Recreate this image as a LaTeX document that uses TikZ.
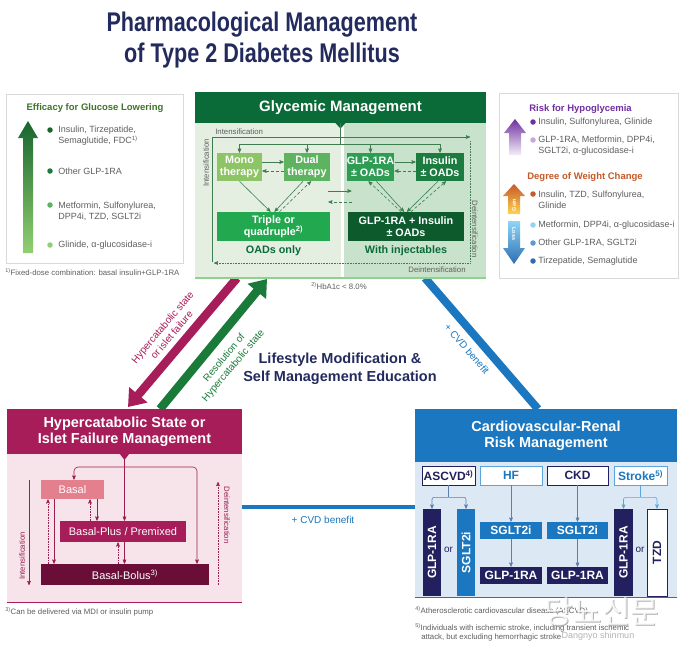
\documentclass[tikz,border=0pt]{standalone}
\usepackage{fontspec}
\setmainfont{Liberation Sans}
\newfontfamily\titlefont[FakeStretch=0.8]{Liberation Sans}
\newfontfamily\krfont{Noto Sans CJK KR}
\usetikzlibrary{shapes,arrows,arrows.meta,positioning,calc}

\definecolor{navy}{HTML}{232B5E}
\definecolor{txtgray}{HTML}{5F5F5F}
\definecolor{framegray}{HTML}{D9D9D9}
\definecolor{gdark}{HTML}{0B6B38}
\definecolor{gmono}{HTML}{8DC466}
\definecolor{gdual}{HTML}{5DB35F}
\definecolor{gglp}{HTML}{2E9C52}
\definecolor{gins}{HTML}{1C7C40}
\definecolor{gtrip}{HTML}{22A94F}
\definecolor{gcomb}{HTML}{0D5A2C}
\definecolor{gleft}{HTML}{E4EFE1}
\definecolor{gright}{HTML}{C8E2CB}
\definecolor{gline}{HTML}{3E7D50}
\definecolor{glight}{HTML}{8FD18F}
\definecolor{effgreen}{HTML}{3F7428}
\definecolor{effdark}{HTML}{17652F}
\definecolor{efflight}{HTML}{92CF6F}
\definecolor{crim}{HTML}{A61D59}
\definecolor{crimlight}{HTML}{E47F8E}
\definecolor{crimdark}{HTML}{6A0E38}
\definecolor{crimline}{HTML}{9B2050}
\definecolor{pinkbg}{HTML}{F7E4EB}
\definecolor{resgreen}{HTML}{1A7A3A}
\definecolor{cblue}{HTML}{1B77BF}
\definecolor{bluebg}{HTML}{DCE9F5}
\definecolor{cnavy}{HTML}{22205E}
\definecolor{lblue}{HTML}{5AA6DC}
\definecolor{arrowblue}{HTML}{5D7FB0}
\definecolor{purp}{HTML}{7030A0}
\definecolor{purplight}{HTML}{C8A8D8}
\definecolor{brownor}{HTML}{C55A2A}
\definecolor{gainyellow}{HTML}{FFD34E}
\definecolor{losslight}{HTML}{8ED6F5}
\definecolor{lossmid}{HTML}{5B9BD5}
\definecolor{lossdark}{HTML}{2E6DB4}

\tikzstyle{headbox} = [rectangle, text=white, font=\bfseries\fontsize{14.5}{16}\selectfont, align=center, inner sep=0pt]
\tikzstyle{gbox} = [rectangle, text=white, font=\bfseries\fontsize{10.8}{12}\selectfont, align=center, inner sep=0pt, minimum height=28pt]
\tikzstyle{pbox} = [rectangle, text=white, font=\fontsize{11}{13}\selectfont, inner sep=0pt]
\tikzstyle{catbox} = [rectangle, draw, fill=white, line width=0.8pt, font=\bfseries\fontsize{12}{14}\selectfont, minimum height=19pt, inner sep=0pt]
\tikzstyle{cbox} = [rectangle, text=white, font=\bfseries\fontsize{12}{14}\selectfont, inner sep=0pt]
\tikzstyle{itemtxt} = [anchor=west, text=txtgray, font=\fontsize{9}{11}\selectfont, align=left, inner sep=0pt]
\tikzstyle{fnote} = [anchor=west, text=txtgray, font=\fontsize{7.8}{9}\selectfont, inner sep=0pt]
\tikzstyle{gtxt} = [text=gdark, font=\bfseries\fontsize{10.8}{12}\selectfont, inner sep=0pt]
\tikzstyle{bdot} = [circle, inner sep=0pt, minimum size=5.5pt]

\begin{document}
\begin{tikzpicture}[x=1pt, y=-1pt, >=stealth', line width=0.6pt]
    \fill[white] (0,0) rectangle (680,649);
    \useasboundingbox (0,0) rectangle (680,649);

    % title
    \node[text=navy, font=\titlefont\bfseries\fontsize{27}{31}\selectfont, align=center, inner sep=0pt] (title) at (262,40.5) {Pharmacological Management\\of Type 2 Diabetes Mellitus};

    % middle arrows
    \coordinate (hyptop) at (237,278);
    \coordinate (hypbot) at (128,407);
    \coordinate (resbot) at (160,409);
    \coordinate (restop) at (267,279);
    \coordinate (cvdtop) at (425,278);
    \coordinate (cvdbot) at (538,409);
    \draw[-{Triangle[length=16pt,width=23pt]}, crim, line width=8.5pt] (hyptop) -- (hypbot);
    \draw[-{Triangle[length=16pt,width=23pt]}, resgreen, line width=8.5pt] (resbot) -- (restop);
    \draw[cblue, line width=8pt] (cvdtop) -- (cvdbot);
    \node[text=crim, rotate=50, align=center, font=\fontsize{10}{12}\selectfont] (hyplab) at (167,331) {Hypercatabolic state\\or islet failure};
    \node[text=resgreen, rotate=50, align=center, font=\fontsize{10}{12}\selectfont] (reslab) at (229,362) {Resolution of\\Hypercatabolic state};
    \node[text=cblue, rotate=-49, font=\fontsize{10}{12}\selectfont] (cvdlab) at (467,349) {+ CVD benefit};
    \node[text=navy, font=\bfseries\fontsize{14.5}{18}\selectfont, align=center, inner sep=0pt] (lifestyle) at (340,369) {Lifestyle Modification \&\\Self Management Education};

    % efficacy panel
    \node[draw=framegray, fill=white, minimum width=177pt, minimum height=169pt, inner sep=0pt] (effbox) at (94.5,178.5) {};
    \node[text=effgreen, font=\bfseries\fontsize{9.5}{11}\selectfont] (efftitle) at (95,108) {Efficacy for Glucose Lowering};
    \shade[top color=effdark, bottom color=efflight] (23,253) -- (23,138) -- (18,138) -- (28,121) -- (38,138) -- (33,138) -- (33,253) -- cycle;
    \node[bdot, fill=effdark] (e1) at (50,130) {};
    \node[itemtxt] (e1t) at (58,136) {Insulin, Tirzepatide,\\Semaglutide, FDC\textsuperscript{1)}};
    \node[bdot, fill=gins] (e2) at (50,171) {};
    \node[itemtxt] (e2t) at (58,171) {Other GLP-1RA};
    \node[bdot, fill=gdual] (e3) at (50,205) {};
    \node[itemtxt] (e3t) at (58,211) {Metformin, Sulfonylurea,\\DPP4i, TZD, SGLT2i};
    \node[bdot, fill=efflight] (e4) at (50,245) {};
    \node[itemtxt] (e4t) at (58,245) {Glinide, α-glucosidase-i};
    \node[fnote] (fn1) at (5,272) {\textsuperscript{1)}Fixed-dose combination: basal insulin+GLP-1RA};

    % glycemic management
    \fill[gleft] (195,123) rectangle (341,278);
    \fill[gright] (344,123) rectangle (486,278);
    \draw[glight, line width=1.2pt] (195,278) -- (486,278);
    \node[headbox, fill=gdark, minimum width=291pt, minimum height=31pt, font=\bfseries\fontsize{15}{17}\selectfont] (glyhead) at (340.5,107.5) {Glycemic Management};
    \fill[gdark] (335,122.5) -- (346,122.5) -- (340.5,128.5) -- cycle;

    \node[gbox, fill=gmono, minimum width=45pt] (mono) at (239.5,167) {Mono\\therapy};
    \node[gbox, fill=gdual, minimum width=46pt] (dual) at (307,167) {Dual\\therapy};
    \node[gbox, fill=gglp, minimum width=45pt] (glpo) at (370.5,167) {GLP-1RA\\± OADs};
    \node[gbox, fill=gins, minimum width=48pt] (inso) at (440,167) {Insulin\\± OADs};
    \node[gbox, fill=gtrip, minimum width=113pt, minimum height=29pt] (triple) at (273.5,226.5) {Triple or\\quadruple\textsuperscript{2)}};
    \node[gbox, fill=gcomb, minimum width=116pt, minimum height=29pt] (comb) at (406,226.5) {GLP-1RA + Insulin\\± OADs};
    \node[gtxt] (oadlab) at (273.5,251) {OADs only};
    \node[gtxt] (injlab) at (406,251) {With injectables};

    \coordinate (gbranch) at (340.5,144);
    \draw[gline] (glyhead.south) -- (gbranch);
    \draw[gline] (mono.north |- gbranch) -- (inso.north |- gbranch);
    \foreach \n in {mono,dual,glpo,inso}
        \draw[->, gline] (\n.north |- gbranch) -- (\n.north);

    \coordinate (intl) at (212,262);
    \coordinate (intr) at (470,137);
    \coordinate (deir) at (470,141);
    \coordinate (deil) at (214,263);
    \draw[->, gline] (intl) |- (intr);
    \draw[->, gline, densely dotted] (deir) |- (deil);
    \node[fnote] (intlab) at (215,132) {Intensification};
    \node[fnote, rotate=90, anchor=center] (intvlab) at (206,163) {Intensification};
    \node[fnote, rotate=-90, anchor=center] (deivlab) at (475,229) {Deintensification};
    \node[fnote, anchor=center] (deilab) at (437,270) {Deintensification};

    \draw[->, gline] ([yshift=5pt]mono.east) -- ([yshift=5pt]dual.west);
    \draw[->, gline, densely dashed] ([yshift=-4pt]dual.west) -- ([yshift=-4pt]mono.east);
    \draw[->, gline] ([yshift=5pt]glpo.east) -- ([yshift=5pt]inso.west);
    \draw[->, gline, densely dashed] ([yshift=-4pt]inso.west) -- ([yshift=-4pt]glpo.east);

    \draw[->, gline] (mono.south) -- ([xshift=-3pt]triple.north);
    \draw[->, gline] ([xshift=-4pt]dual.south) -- ([xshift=1pt]triple.north);
    \draw[->, gline, densely dashed] ([xshift=6pt]triple.north) -- ([xshift=4pt]dual.south);
    \draw[->, gline] ([xshift=6pt]glpo.south) -- ([xshift=-2pt]comb.north);
    \draw[->, gline, densely dashed] ([xshift=-5pt]comb.north) -- ([xshift=-2pt]glpo.south);
    \draw[->, gline] ([xshift=-2pt]inso.south) -- ([xshift=1pt]comb.north);
    \draw[->, gline, densely dashed] ([xshift=5pt]comb.north) -- ([xshift=6pt]inso.south);

    \draw[->, gline] ([xshift=-2pt,yshift=-24pt]dual.east) -- ([xshift=5pt,yshift=-24pt]glpo.west);
    \draw[->, gline, densely dashed] ([xshift=5pt,yshift=-35pt]glpo.west) -- ([xshift=-2pt,yshift=-35pt]dual.east);
    \node[fnote, anchor=center] (hbanote) at (339,286) {\textsuperscript{2)}HbA1c < 8.0\%};

    % hypoglycemia / weight panel
    \node[draw=framegray, fill=white, minimum width=179pt, minimum height=185pt, inner sep=0pt] (riskbox) at (588.5,185.5) {};
    \node[text=purp, anchor=west, inner sep=0pt, font=\bfseries\fontsize{9.5}{11}\selectfont] (hypotitle) at (529,109) {Risk for Hypoglycemia};
    \shade[top color=purp, bottom color=purp!8] (509,155) -- (509,133) -- (504,133) -- (515,119) -- (526,133) -- (521,133) -- (521,155) -- cycle;
    \node[bdot, fill=purp] (h1) at (533,122) {};
    \node[itemtxt] (h1t) at (538,122) {Insulin, Sulfonylurea, Glinide};
    \node[bdot, fill=purplight] (h2) at (533,140) {};
    \node[itemtxt] (h2t) at (538,146) {GLP-1RA, Metformin, DPP4i,\\SGLT2i, α-glucosidase-i};

    \node[text=brownor, anchor=west, inner sep=0pt, font=\bfseries\fontsize{9.5}{11}\selectfont] (wttitle) at (527,177) {Degree of Weight Change};
    \shade[top color=brownor, bottom color=gainyellow] (508,214) -- (508,196) -- (503,196) -- (514,184) -- (525,196) -- (520,196) -- (520,214) -- cycle;
    \node[rotate=90, text=white, font=\bfseries\fontsize{5.5}{6}\selectfont] (gainlab) at (514,205) {Gain};
    \shade[top color=losslight, bottom color=lossdark] (508,221) -- (508,248) -- (503,248) -- (514,264) -- (525,248) -- (520,248) -- (520,221) -- cycle;
    \node[rotate=-90, text=white, font=\bfseries\fontsize{5.5}{6}\selectfont] (losslab) at (514,234) {Loss};
    \node[bdot, fill=brownor] (w1) at (533,194) {};
    \node[itemtxt] (w1t) at (538,200) {Insulin, TZD, Sulfonylurea,\\Glinide};
    \node[bdot, fill=losslight] (w2) at (533,225) {};
    \node[itemtxt] (w2t) at (538,225) {Metformin, DPP4i, α-glucosidase-i};
    \node[bdot, fill=lossmid] (w3) at (533,243) {};
    \node[itemtxt] (w3t) at (538,243) {Other GLP-1RA, SGLT2i};
    \node[bdot, fill=lossdark] (w4) at (533,261) {};
    \node[itemtxt] (w4t) at (538,261) {Tirzepatide, Semaglutide};

    % hypercatabolic state
    \node[fill=pinkbg, minimum width=235pt, minimum height=148pt, inner sep=0pt] (hypbody) at (124.5,528) {};
    \draw[crim, line width=1.2pt] (hypbody.south west) -- (hypbody.south east);
    \node[headbox, fill=crim, minimum width=235pt, minimum height=45pt] (hyphead) at (124.5,431.5) {Hypercatabolic State or\\Islet Failure Management};
    \fill[crim] (119.5,453.5) -- (129.5,453.5) -- (124.5,460) -- cycle;

    \node[pbox, fill=crimlight, minimum width=63pt, minimum height=19pt] (basal) at (72.5,489.5) {Basal};
    \node[pbox, fill=crim, minimum width=126pt, minimum height=21pt] (bplus) at (123,531.5) {Basal-Plus / Premixed};
    \node[pbox, fill=crimdark, minimum width=168pt, minimum height=21pt] (bbolus) at (125,574.5) {Basal-Bolus\textsuperscript{3)}};

    \coordinate (hbranch) at (124.5,467);
    \coordinate (hbright) at (197,467);
    \draw[->, crimline] (hyphead.south) -- (hyphead.south |- bplus.north);
    \draw[->, crimline, rounded corners=4pt] (hbranch) -| ([xshift=1.5pt]basal.north);
    \draw[->, crimline, rounded corners=4pt] (hbranch) -- (hbright) -- (hbright |- bbolus.north);
    \draw[->, crimline] (hyphead.south |- bplus.south) -- (hyphead.south |- bbolus.north);
    \draw[->, crimline, densely dotted] ([xshift=-6.5pt]hyphead.south |- bbolus.north) -- ([xshift=-6.5pt]hyphead.south |- bplus.south);
    \draw[->, crimline] ([xshift=-18.5pt]basal.south) -- ([xshift=-18.5pt]basal.south |- bbolus.north);
    \draw[->, crimline, densely dotted] ([xshift=-24.5pt]basal.south |- bbolus.north) -- ([xshift=-24.5pt]basal.south);
    \draw[->, crimline] ([xshift=24.5pt]basal.south) -- ([xshift=24.5pt]basal.south |- bplus.north);
    \draw[->, crimline, densely dotted] ([xshift=17.5pt]basal.south |- bplus.north) -- ([xshift=17.5pt]basal.south);

    \coordinate (hintt) at (29,480);
    \coordinate (hintb) at (29,585);
    \coordinate (hdeib) at (218,585);
    \coordinate (hdeit) at (218,482);
    \draw[->, crimline] (hintt) -- (hintb);
    \draw[->, crimline, densely dotted] (hdeib) -- (hdeit);
    \node[fnote, text=crimline, rotate=90, anchor=center] (hintlab) at (22,556) {Intensification};
    \node[fnote, text=crimline, rotate=-90, anchor=center] (hdeilab) at (227,515) {Deintensification};
    \node[fnote] (fn3) at (5,612) {\textsuperscript{3)}Can be delivered via MDI or insulin pump};

    % cardiovascular-renal
    \node[fill=bluebg, minimum width=262pt, minimum height=135pt, inner sep=0pt] (cvbody) at (546,529.5) {};
    \draw[cblue, line width=1.2pt] (cvbody.south west) -- (cvbody.south east);
    \node[headbox, fill=cblue, minimum width=262pt, minimum height=53pt] (cvhead) at (546,435.5) {Cardiovascular-Renal\\Risk Management};

    \coordinate (cvdy) at (0,507);
    \draw[cblue, line width=4pt] (hypbody.east |- cvdy) -- (cvbody.west |- cvdy);
    \node[text=cblue, font=\fontsize{10}{12}\selectfont] (cvdlab2) at (323,520) {+ CVD benefit};

    \node[catbox, draw=cnavy, text=cnavy, minimum width=53pt] (ascvd) at (448.5,475.5) {ASCVD\textsuperscript{4)}};
    \node[catbox, draw=lblue, text=cblue, minimum width=62pt] (hf) at (511,475.5) {HF};
    \node[catbox, draw=cnavy, text=cnavy, minimum width=61pt] (ckd) at (577.5,475.5) {CKD};
    \node[catbox, draw=lblue, text=cblue, minimum width=53pt] (stroke) at (640.5,475.5) {Stroke\textsuperscript{5)}};

    \node[cbox, fill=cnavy, minimum width=18pt, minimum height=87pt] (glpa) at (432,552.5) {\rotatebox{90}{GLP-1RA}};
    \node[cbox, fill=cblue, minimum width=18pt, minimum height=87pt] (sglta) at (466,552.5) {\rotatebox{90}{SGLT2i}};
    \node[cbox, fill=cblue, minimum width=62pt, minimum height=17pt] (sglth) at (511,530.5) {SGLT2i};
    \node[cbox, fill=cnavy, minimum width=62pt, minimum height=17pt] (glph) at (511,575.5) {GLP-1RA};
    \node[cbox, fill=cblue, minimum width=61pt, minimum height=17pt] (sgltc) at (577.5,530.5) {SGLT2i};
    \node[cbox, fill=cnavy, minimum width=61pt, minimum height=17pt] (glpc) at (577.5,575.5) {GLP-1RA};
    \node[cbox, fill=cnavy, minimum width=19pt, minimum height=87pt] (glps) at (623.5,552.5) {\rotatebox{90}{GLP-1RA}};
    \node[cbox, fill=white, draw=cnavy, line width=0.8pt, text=cnavy, minimum width=20pt, minimum height=87pt] (tzd) at (657,552.5) {\rotatebox{90}{TZD}};
    \node[text=cnavy, font=\fontsize{10}{12}\selectfont] (or1) at (448.5,550) {or};
    \node[text=cnavy, font=\fontsize{10}{12}\selectfont] (or2) at (640,550) {or};

    \coordinate (asj) at ($(ascvd.south)+(0,12)$);
    \coordinate (stj) at ($(stroke.south)+(0,12)$);
    \draw[arrowblue] (ascvd.south) -- (asj);
    \draw[->, arrowblue, rounded corners=2pt] (asj) -| (glpa.north);
    \draw[->, arrowblue, rounded corners=2pt] (asj) -| (sglta.north);
    \draw[->, arrowblue] (hf.south) -- (sglth.north);
    \draw[->, arrowblue] (sglth.south) -- (glph.north);
    \draw[->, arrowblue] (ckd.south) -- (sgltc.north);
    \draw[->, arrowblue] (sgltc.south) -- (glpc.north);
    \draw[lblue] (stroke.south) -- (stj);
    \draw[->, lblue, rounded corners=2pt] (stj) -| (glps.north);
    \draw[->, lblue, rounded corners=2pt] (stj) -| (tzd.north);

    \node[fnote] (fn4) at (415,611) {\textsuperscript{4)}Atherosclerotic cardiovascular disease (ASCVD)};
    \node[fnote] (fn5) at (415,628) {\textsuperscript{5)}Individuals with ischemic stroke, including transient ischemic};
    \node[fnote] (fn5b) at (421,637) {attack, but excluding hemorrhagic stroke};

    % watermark
    \node[text=gray, opacity=0.6, font=\krfont\fontsize{31}{33}\selectfont] (wshadow) at (603,613) {당뇨신문};
    \node[text=white, opacity=0.85, font=\krfont\fontsize{31}{33}\selectfont] (wmark) at (602,612) {당뇨신문};
    \node[text=gray, opacity=0.6, font=\fontsize{9}{10}\selectfont] (wlat) at (598,636) {Dangnyo shinmun};
\end{tikzpicture}
\end{document}
